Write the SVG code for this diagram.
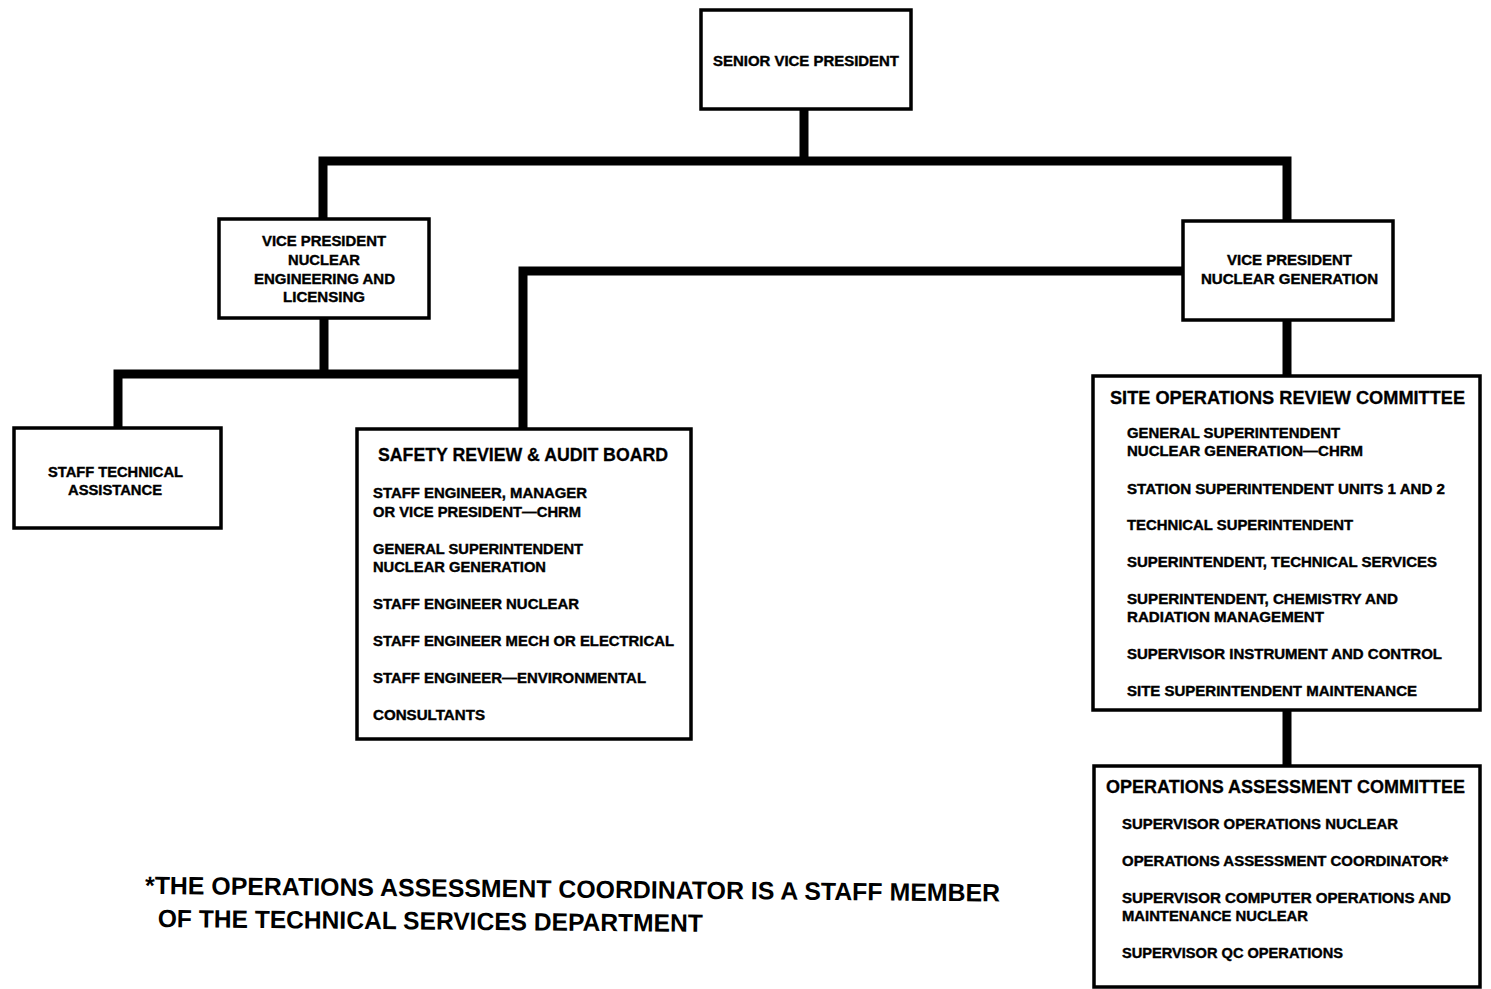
<svg xmlns="http://www.w3.org/2000/svg" width="1491" height="989" viewBox="0 0 1491 989">
<style>
.box{fill:#fff;stroke:#000;stroke-width:3.5}
.conn{fill:none;stroke:#000;stroke-width:9;stroke-linejoin:miter}
text{font-family:"Liberation Sans",Arial,sans-serif;font-weight:bold;fill:#000}
.s{font-size:15px;stroke:#000;stroke-width:0.4}
.t{font-size:18px;stroke:#000;stroke-width:0.3}
.f{font-size:25px}
</style>
<rect width="1491" height="989" fill="#fff"/>
<g id="connectors">
<path class="conn" d="M804,110 V161"/>
<path class="conn" d="M323,219 V161 H1287 V221"/>
<path class="conn" d="M1182,271 H523 V429"/>
<path class="conn" d="M324,318 V374"/>
<path class="conn" d="M118,428 V374 H527"/>
<path class="conn" d="M1287,320 V376"/>
<path class="conn" d="M1287,711 V766"/>
</g>
<g id="svp">
<rect class="box" x="701" y="10" width="210" height="99"/>
<text class="s" x="713" y="66" textLength="186" lengthAdjust="spacingAndGlyphs">SENIOR VICE PRESIDENT</text>
</g>
<g id="vp-nel">
<rect class="box" x="219" y="219" width="210" height="99"/>
<text class="s" x="262" y="246" textLength="124" lengthAdjust="spacingAndGlyphs">VICE PRESIDENT</text>
<text class="s" x="288" y="265" textLength="72" lengthAdjust="spacingAndGlyphs">NUCLEAR</text>
<text class="s" x="254" y="284" textLength="141" lengthAdjust="spacingAndGlyphs">ENGINEERING AND</text>
<text class="s" x="283" y="302" textLength="82" lengthAdjust="spacingAndGlyphs">LICENSING</text>
</g>
<g id="vp-ng">
<rect class="box" x="1183" y="221" width="210" height="99"/>
<text class="s" x="1227" y="265" textLength="125" lengthAdjust="spacingAndGlyphs">VICE PRESIDENT</text>
<text class="s" x="1201" y="284" textLength="177" lengthAdjust="spacingAndGlyphs">NUCLEAR GENERATION</text>
</g>
<g id="staff-tech">
<rect class="box" x="14" y="428" width="207" height="100"/>
<text class="s" x="48" y="477" textLength="135" lengthAdjust="spacingAndGlyphs">STAFF TECHNICAL</text>
<text class="s" x="68" y="495" textLength="94" lengthAdjust="spacingAndGlyphs">ASSISTANCE</text>
</g>
<g id="safety-board">
<rect class="box" x="357" y="429" width="334" height="310"/>
<text class="t" x="378" y="461" textLength="290" lengthAdjust="spacingAndGlyphs">SAFETY  REVIEW &amp; AUDIT BOARD</text>
<text class="s" x="373" y="498" textLength="214" lengthAdjust="spacingAndGlyphs">STAFF ENGINEER, MANAGER</text>
<text class="s" x="373" y="517" textLength="208" lengthAdjust="spacingAndGlyphs">OR VICE PRESIDENT—CHRM</text>
<text class="s" x="373" y="554" textLength="210" lengthAdjust="spacingAndGlyphs">GENERAL SUPERINTENDENT</text>
<text class="s" x="373" y="572" textLength="173" lengthAdjust="spacingAndGlyphs">NUCLEAR GENERATION</text>
<text class="s" x="373" y="609" textLength="206" lengthAdjust="spacingAndGlyphs">STAFF ENGINEER NUCLEAR</text>
<text class="s" x="373" y="646" textLength="301" lengthAdjust="spacingAndGlyphs">STAFF ENGINEER MECH OR ELECTRICAL</text>
<text class="s" x="373" y="683" textLength="273" lengthAdjust="spacingAndGlyphs">STAFF ENGINEER—ENVIRONMENTAL</text>
<text class="s" x="373" y="720" textLength="112" lengthAdjust="spacingAndGlyphs">CONSULTANTS</text>
</g>
<g id="sorc">
<rect class="box" x="1093" y="376" width="387" height="334"/>
<text class="t" x="1110" y="404" textLength="355" lengthAdjust="spacingAndGlyphs">SITE OPERATIONS REVIEW COMMITTEE</text>
<text class="s" x="1127" y="438" textLength="213" lengthAdjust="spacingAndGlyphs">GENERAL SUPERINTENDENT</text>
<text class="s" x="1127" y="456" textLength="236" lengthAdjust="spacingAndGlyphs">NUCLEAR GENERATION—CHRM</text>
<text class="s" x="1127" y="494" textLength="318" lengthAdjust="spacingAndGlyphs">STATION SUPERINTENDENT UNITS 1 AND 2</text>
<text class="s" x="1127" y="530" textLength="226" lengthAdjust="spacingAndGlyphs">TECHNICAL SUPERINTENDENT</text>
<text class="s" x="1127" y="567" textLength="310" lengthAdjust="spacingAndGlyphs">SUPERINTENDENT, TECHNICAL SERVICES</text>
<text class="s" x="1127" y="604" textLength="271" lengthAdjust="spacingAndGlyphs">SUPERINTENDENT, CHEMISTRY AND</text>
<text class="s" x="1127" y="622" textLength="197" lengthAdjust="spacingAndGlyphs">RADIATION MANAGEMENT</text>
<text class="s" x="1127" y="659" textLength="315" lengthAdjust="spacingAndGlyphs">SUPERVISOR INSTRUMENT AND CONTROL</text>
<text class="s" x="1127" y="696" textLength="290" lengthAdjust="spacingAndGlyphs">SITE SUPERINTENDENT MAINTENANCE</text>
</g>
<g id="oac">
<rect class="box" x="1094" y="766" width="386" height="221"/>
<text class="t" x="1106" y="793" textLength="359" lengthAdjust="spacingAndGlyphs">OPERATIONS ASSESSMENT COMMITTEE</text>
<text class="s" x="1122" y="829" textLength="276" lengthAdjust="spacingAndGlyphs">SUPERVISOR OPERATIONS NUCLEAR</text>
<text class="s" x="1122" y="866" textLength="326" lengthAdjust="spacingAndGlyphs">OPERATIONS ASSESSMENT COORDINATOR*</text>
<text class="s" x="1122" y="903" textLength="329" lengthAdjust="spacingAndGlyphs">SUPERVISOR COMPUTER OPERATIONS AND</text>
<text class="s" x="1122" y="921" textLength="186" lengthAdjust="spacingAndGlyphs">MAINTENANCE NUCLEAR</text>
<text class="s" x="1122" y="958" textLength="221" lengthAdjust="spacingAndGlyphs">SUPERVISOR QC OPERATIONS</text>
</g>
<g id="footnote" transform="rotate(0.5 145 894)">
<text class="f" x="145" y="894" textLength="855" lengthAdjust="spacingAndGlyphs">*THE OPERATIONS ASSESSMENT COORDINATOR IS A STAFF MEMBER</text>
<text class="f" x="158" y="927" textLength="545" lengthAdjust="spacingAndGlyphs">OF THE TECHNICAL SERVICES DEPARTMENT</text>
</g>
</svg>
